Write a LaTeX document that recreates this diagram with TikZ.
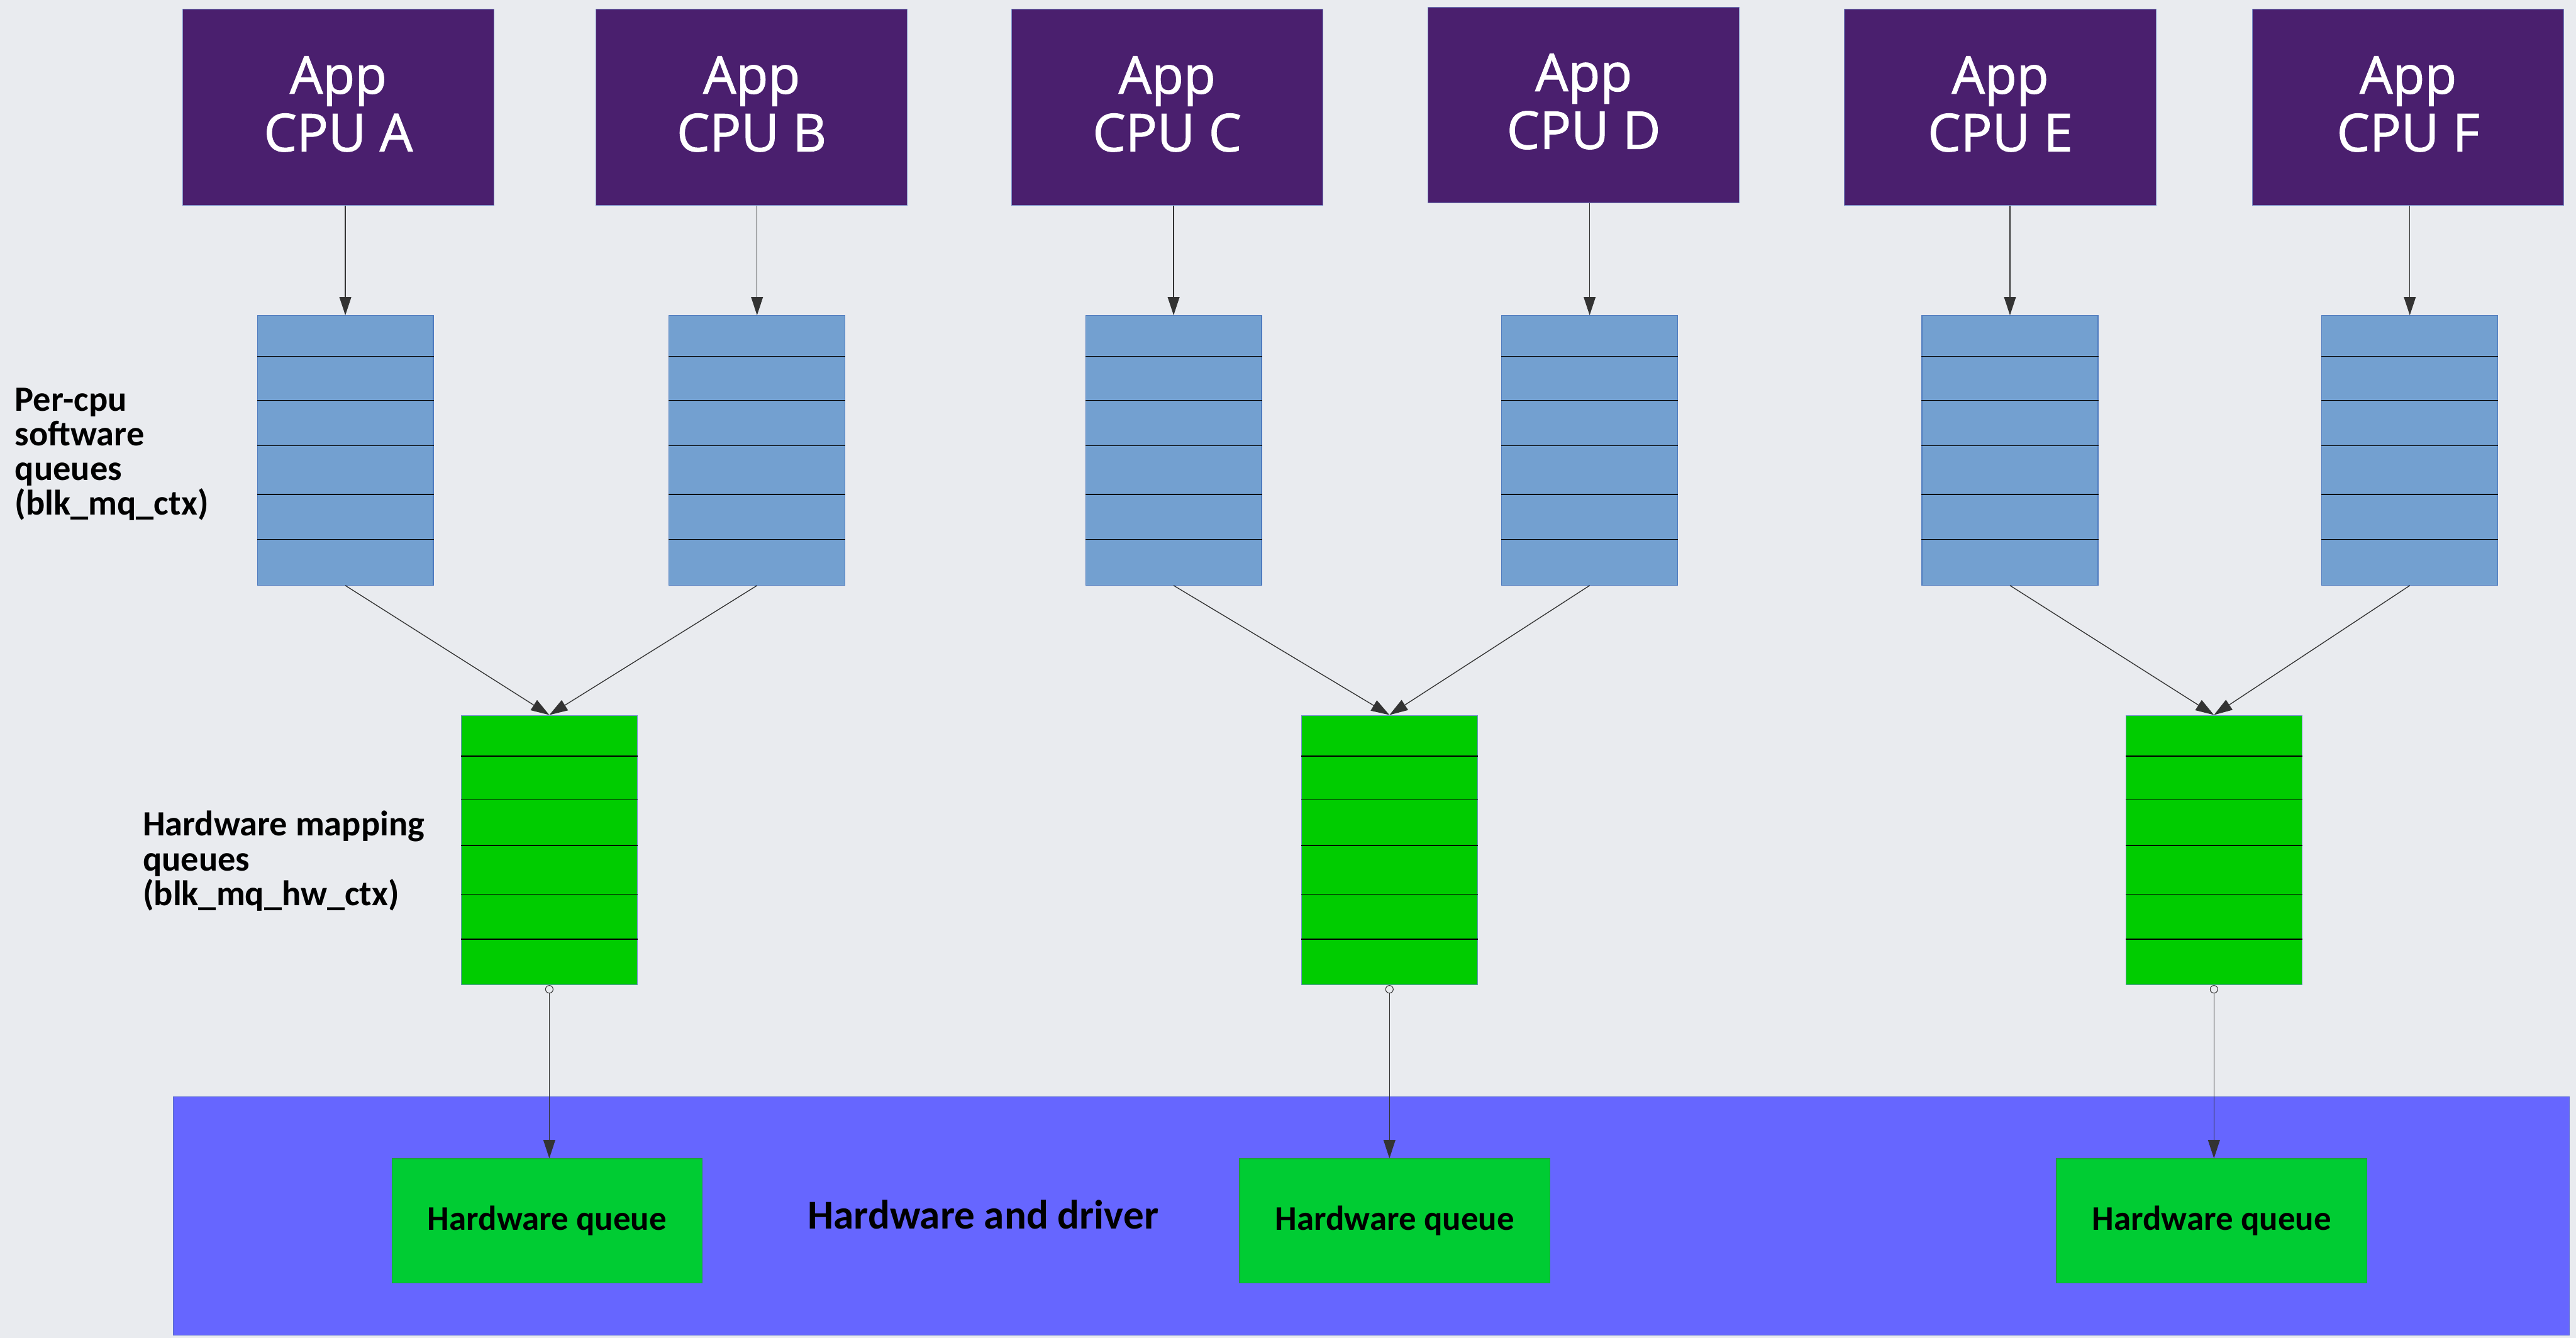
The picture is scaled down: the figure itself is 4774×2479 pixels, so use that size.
\documentclass[tikz,border=0pt]{standalone}
\usepackage{fontspec}
\setmainfont{Carlito}
\newfontfamily\appfont{Open Sans}[FakeBold=1.3]
\usetikzlibrary{arrows.meta,calc}

\definecolor{bgc}{HTML}{E9EBEF}
\definecolor{appc}{HTML}{4A1F6E}
\definecolor{appedge}{HTML}{7A8FC8}
\definecolor{swq}{HTML}{73A0D0}
\definecolor{swqedge}{HTML}{4F7BBF}
\definecolor{hwmap}{HTML}{00CC00}
\definecolor{hwmapedge}{HTML}{6F8FC8}
\definecolor{hwq}{HTML}{00CC33}
\definecolor{hwqedge}{HTML}{1E9E3C}
\definecolor{drv}{HTML}{6666FF}
\definecolor{drvedge}{HTML}{5C6CD8}

\begin{document}
\begin{tikzpicture}[x=0.01cm,y=-0.01cm,
  appbox/.style={draw=appedge, line width=0.3pt, fill=appc,
    inner sep=0pt, minimum width=5.77cm, minimum height=3.63cm,
    label={[apptext]center:#1}},
  apptext/.style={text=white, inner sep=0pt, align=center, yshift=1.8pt,
    font=\appfont\fontsize{27.5}{30.4}\selectfont},
  queuebox/.style={line width=0.4pt, inner sep=0pt,
    minimum width=3.26cm, minimum height=4.99cm},
  swbox/.style={queuebox, draw=swqedge, fill=swq},
  mapbox/.style={queuebox, draw=hwmapedge, fill=hwmap},
  hwqbox/.style={draw=hwqedge, line width=0.4pt, fill=hwq, inner sep=0pt,
    minimum width=5.75cm, minimum height=2.30cm,
    font=\bfseries\fontsize{18.2}{20}\selectfont},
  drvbox/.style={draw=drvedge, line width=0.4pt, fill=drv, inner sep=0pt,
    minimum width=44.37cm, minimum height=4.42cm},
  lbl/.style={inner sep=0pt, align=left,
    font=\bfseries\fontsize{18.7}{18.3}\selectfont},
  divider/.style={draw=black, line width=0.45pt},
  arr/.style={draw=black!80, line width=0.45pt,
    -{Triangle[length=0.34cm,width=0.22cm]}},
  port/.style={circle, draw=black!80, fill=bgc, line width=0.35pt,
    inner sep=0pt, minimum size=0.14cm},
]
% canvas
\fill[bgc] (0,0) rectangle (4774,2479);
\useasboundingbox (0,0) rectangle (4774,2479);

% hardware and driver layer
\node[drvbox] (drv) at (2541.5,2253) {};
\node[font=\bfseries\fontsize{21.6}{24}\selectfont, inner sep=0pt] (drvlabel) at (1822,2250) {Hardware and driver};

% applications
\node[appbox={App\\CPU A}] (appA) at (627,199) {};
\node[appbox={App\\CPU B}] (appB) at (1393,199) {};
\node[appbox={App\\CPU C}] (appC) at (2163,199) {};
\node[appbox={App\\CPU D}] (appD) at (2935,194.5) {};
\node[appbox={App\\CPU E}] (appE) at (3707,199) {};
\node[appbox={App\\CPU F}] (appF) at (4463,199) {};

% per-cpu software queues
\node[swbox] (swA) at (640,834.5) {};
\node[swbox] (swB) at (1403,834.5) {};
\node[swbox] (swC) at (2175,834.5) {};
\node[swbox] (swD) at (2946,834.5) {};
\node[swbox] (swE) at (3725,834.5) {};
\node[swbox] (swF) at (4466,834.5) {};

% hardware mapping queues
\node[mapbox] (hmA) at (1018,1575) {};
\node[mapbox] (hmC) at (2575,1575) {};
\node[mapbox] (hmE) at (4103,1575) {};

% slot dividers
\foreach \q in {swA,swB,swC,swD,swE,swF,hmA,hmC,hmE}
  \foreach \f in {0.1523,0.3146,0.483,0.6633,0.8297}
    \draw[divider] ($(\q.north west)!\f!(\q.south west)$) -- ($(\q.north east)!\f!(\q.south east)$);

% hardware queues
\node[hwqbox] (hqA) at (1014,2262) {Hardware queue};
\node[hwqbox] (hqC) at (2585,2262) {Hardware queue};
\node[hwqbox] (hqE) at (4099,2262) {Hardware queue};

% side labels
\node[lbl, anchor=north west] (swlabel) at (27,718) {Per-cpu\\software\\queues\\(blk\_mq\_ctx)};
\node[lbl, anchor=north west] (hmlabel) at (264,1502) {Hardware mapping\\queues\\(blk\_mq\_hw\_ctx)};

% app -> software queue
\foreach \c in {A,B,C,D,E,F}
  \draw[arr] (app\c.south -| sw\c.north) -- (sw\c.north);

% software queues -> hardware mapping queues
\draw[arr] (swA.south) -- (hmA.north);
\draw[arr] (swB.south) -- (hmA.north);
\draw[arr] (swC.south) -- (hmC.north);
\draw[arr] (swD.south) -- (hmC.north);
\draw[arr] (swE.south) -- (hmE.north);
\draw[arr] (swF.south) -- (hmE.north);

% hardware mapping queues -> hardware queues
\foreach \c in {A,C,E} {
  \node[port, anchor=north] (p\c) at (hm\c.south) {};
  \draw[arr] (p\c.south) -- (p\c.south |- hq\c.north);
}
\end{tikzpicture}
\end{document}
